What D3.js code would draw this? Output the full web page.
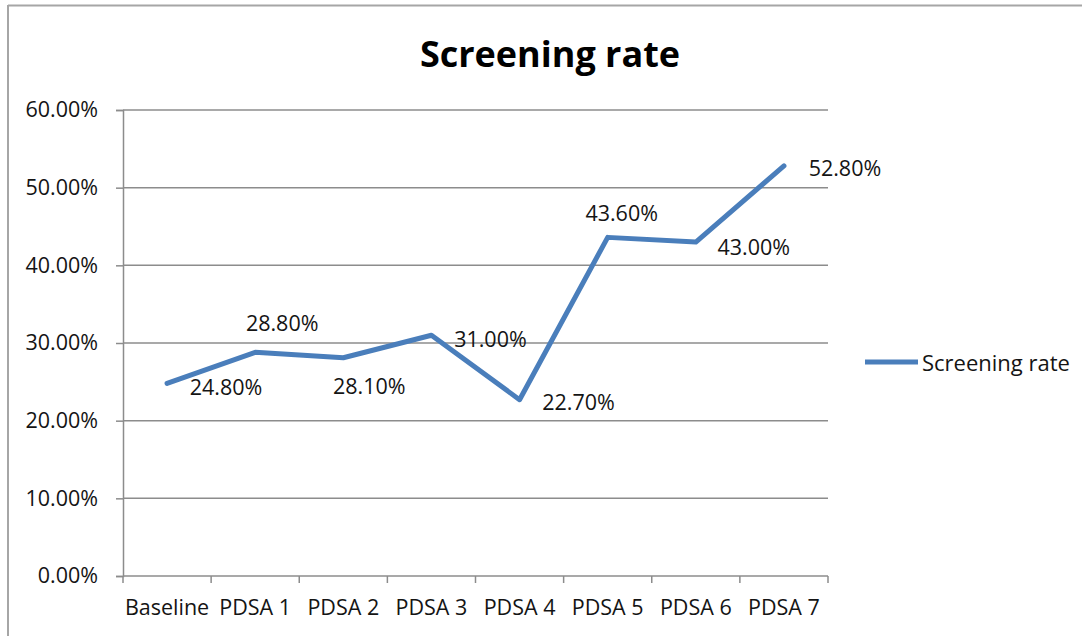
<!DOCTYPE html>
<html>
<head>
<meta charset="utf-8">
<script src="https://cdn.jsdelivr.net/npm/d3@7"></script>
<style>
  html, body { margin: 0; padding: 0; background: #fff; }
  svg { display: block; }
  text { font-family: "Open Sans", "Noto Sans", sans-serif; fill: #141414; }
</style>
</head>
<body>
<svg id="chart" width="1082" height="636"></svg>
<script>
// Screening rate per improvement cycle (percent)
const categories = ["Baseline", "PDSA 1", "PDSA 2", "PDSA 3", "PDSA 4", "PDSA 5", "PDSA 6", "PDSA 7"];
const screeningRate = [24.8, 28.8, 28.1, 31.0, 22.7, 43.6, 43.0, 52.8];
const yTicks = [0, 10, 20, 30, 40, 50, 60];
const seriesName = "Screening rate";

// Hand-placed data-label offsets (px) relative to each point
const labelOffsets = [
  [59, 3], [27, -30], [26, 28], [59, 3], [59, 2], [14, -25], [58, 4], [61, 2]
];

const svg = d3.select("#chart");
const W = 1082, H = 636;
const plot = { left: 123, right: 828, top: 110, bottom: 576 };
const lineColor = "#4a7ebb";
const gridColor = "#8c8c8c";
const fs = "21.5px";

// Outer chart frame (top and left edges visible)
svg.append("line").attr("x1", 8).attr("x2", W).attr("y1", 5.5).attr("y2", 5.5)
  .attr("stroke", "#a6a6a6").attr("stroke-width", 2);
svg.append("line").attr("x1", 8).attr("x2", 8).attr("y1", 5).attr("y2", H)
  .attr("stroke", "#a6a6a6").attr("stroke-width", 2);

const x = d3.scaleBand().domain(categories).range([plot.left, plot.right]).padding(0);
const y = d3.scaleLinear().domain([0, 60]).range([plot.bottom, plot.top]);

// Title
svg.append("text")
  .attr("x", 550).attr("y", 67)
  .attr("text-anchor", "middle")
  .style("font-size", "36px").style("font-weight", "bold")
  .style("fill", "#000")
  .text("Screening rate");

// Horizontal gridlines
svg.append("g").selectAll("line")
  .data(yTicks.filter(d => d > 0))
  .join("line")
  .attr("x1", plot.left).attr("x2", plot.right)
  .attr("y1", d => y(d)).attr("y2", d => y(d))
  .attr("stroke", gridColor).attr("stroke-width", 1.5);

// Y axis
const yAxis = svg.append("g")
  .attr("transform", `translate(${plot.left},0)`)
  .call(d3.axisLeft(y).tickValues(yTicks).tickFormat(d => d.toFixed(2) + "%").tickSize(7).tickPadding(18));
yAxis.select(".domain").attr("stroke", gridColor).attr("stroke-width", 1.5);
yAxis.selectAll(".tick line").attr("stroke", gridColor).attr("stroke-width", 1.5);
yAxis.selectAll(".tick text").style("font-size", fs).style("font-family", "'Open Sans', sans-serif").attr("fill", "#141414");

// X axis with category boundary ticks
const xAxisG = svg.append("g").attr("transform", `translate(0,${plot.bottom})`);
xAxisG.append("line").attr("x1", plot.left).attr("x2", plot.right)
  .attr("stroke", gridColor).attr("stroke-width", 1.5);
const bounds = categories.map(c => x(c)).concat([x(categories[categories.length - 1]) + x.bandwidth()]);
xAxisG.selectAll("line.tk").data(bounds).join("line").attr("class", "tk")
  .attr("x1", d => d).attr("x2", d => d).attr("y1", 0).attr("y2", 7)
  .attr("stroke", gridColor).attr("stroke-width", 1.5);
xAxisG.selectAll("text").data(categories).join("text")
  .attr("x", d => x(d) + x.bandwidth() / 2)
  .attr("y", 39)
  .attr("text-anchor", "middle")
  .style("font-size", fs)
  .text(d => d);

// Series line
const pts = categories.map((c, i) => ({ c, v: screeningRate[i], i }));
const line = d3.line().x(d => x(d.c) + x.bandwidth() / 2).y(d => y(d.v));
svg.append("path").datum(pts)
  .attr("d", line)
  .attr("fill", "none")
  .attr("stroke", lineColor)
  .attr("stroke-width", 5)
  .attr("stroke-linejoin", "round")
  .attr("stroke-linecap", "round");

// Data labels
svg.append("g").selectAll("text").data(pts).join("text")
  .attr("x", d => x(d.c) + x.bandwidth() / 2 + labelOffsets[d.i][0])
  .attr("y", d => y(d.v) + labelOffsets[d.i][1])
  .attr("text-anchor", "middle")
  .attr("dominant-baseline", "central")
  .style("font-size", fs)
  .text(d => d.v.toFixed(2) + "%");

// Legend
const lg = svg.append("g").attr("transform", "translate(865,362)");
lg.append("line").attr("x1", 0).attr("x2", 53).attr("y1", 0).attr("y2", 0)
  .attr("stroke", lineColor).attr("stroke-width", 5);
lg.append("text").attr("x", 57).attr("y", 0)
  .attr("dominant-baseline", "central")
  .style("font-size", "22px")
  .text(seriesName);
</script>
</body>
</html>
